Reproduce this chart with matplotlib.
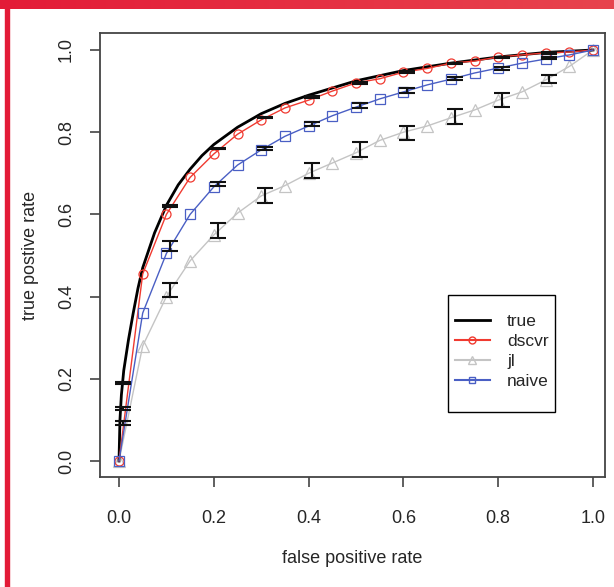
import numpy as np
import matplotlib
matplotlib.use("Agg")
import matplotlib.pyplot as plt
from matplotlib.lines import Line2D
from matplotlib.patches import Rectangle
from matplotlib.colors import LinearSegmentedColormap

plt.rcParams['font.family'] = ['Liberation Sans', 'DejaVu Sans']

# ---- data ----
true_x = [0.0, 0.002, 0.005, 0.01, 0.02, 0.03, 0.04, 0.05, 0.075, 0.1, 0.125, 0.15, 0.175,
          0.2, 0.25, 0.3, 0.35, 0.4, 0.5, 0.6, 0.7, 0.8, 0.9, 1.0]
true_y = [0.0, 0.10, 0.16, 0.22, 0.295, 0.36, 0.42, 0.47, 0.555, 0.622, 0.672, 0.71, 0.743,
          0.77, 0.812, 0.845, 0.87, 0.89, 0.925, 0.95, 0.968, 0.983, 0.994, 1.0]

grid_x = [0.0, 0.05, 0.1, 0.15, 0.2, 0.25, 0.3, 0.35, 0.4, 0.45, 0.5, 0.55, 0.6, 0.65,
          0.7, 0.75, 0.8, 0.85, 0.9, 0.95, 1.0]
dscvr_y = [0.0, 0.455, 0.60, 0.69, 0.747, 0.795, 0.83, 0.859, 0.878, 0.90, 0.92, 0.93,
           0.946, 0.955, 0.968, 0.973, 0.983, 0.988, 0.993, 0.995, 1.0]
naive_y = [0.0, 0.36, 0.505, 0.60, 0.667, 0.72, 0.757, 0.79, 0.815, 0.84, 0.861, 0.881,
           0.898, 0.915, 0.929, 0.944, 0.956, 0.968, 0.978, 0.988, 1.0]
jl_y = [0.0, 0.28, 0.40, 0.487, 0.55, 0.603, 0.645, 0.67, 0.70, 0.725, 0.75, 0.78,
        0.80, 0.815, 0.835, 0.854, 0.878, 0.898, 0.927, 0.96, 1.0]

# error bars (x positions, lower, upper)
err_x = [0.008, 0.108, 0.208, 0.308, 0.408, 0.508, 0.608, 0.708, 0.808, 0.908]
true_lo = [0.188, 0.618, 0.758, 0.834, 0.884, 0.918, 0.944, 0.965, 0.980, 0.991]
true_hi = [0.192, 0.622, 0.762, 0.838, 0.888, 0.922, 0.948, 0.969, 0.984, 0.995]
naive_lo = [0.124, 0.51, 0.670, 0.757, 0.815, 0.860, 0.895, 0.927, 0.951, 0.978]
naive_hi = [0.131, 0.535, 0.680, 0.764, 0.825, 0.871, 0.908, 0.934, 0.959, 0.983]
jl_lo = [0.088, 0.399, 0.543, 0.628, 0.689, 0.740, 0.780, 0.820, 0.861, 0.920]
jl_hi = [0.097, 0.433, 0.579, 0.664, 0.725, 0.776, 0.815, 0.856, 0.895, 0.940]

x_ticks = [0.0, 0.2, 0.4, 0.6, 0.8, 1.0]
y_ticks = [0.0, 0.2, 0.4, 0.6, 0.8, 1.0]
tick_labels = ["0.0", "0.2", "0.4", "0.6", "0.8", "1.0"]
legend_labels = ["true", "dscvr", "jl", "naive"]

RED = "#f03a30"
GRAY = "#c4c4c4"
BLUE = "#4a5fc4"
TXT = "#262626"

W, H = 614, 587
fig = plt.figure(figsize=(W / 100, H / 100), dpi=100)
fig.patch.set_facecolor("white")

# red frame: gradient band at top and thin line at left
band = fig.add_axes([0, 1 - 9 / H, 1, 9 / H])
grad = np.linspace(0, 1, 256)[None, :]
cmap = LinearSegmentedColormap.from_list("band", ["#e31b37", "#e8444e"])
band.imshow(grad, aspect="auto", cmap=cmap, extent=[0, 1, 0, 1])
band.set_axis_off()
fig.patches.append(plt.Rectangle((5 / W, 0), 3.5 / W, 1, transform=fig.transFigure,
                                 color="#e31b37", zorder=5))

L, R, T, B = 100, 605, 33, 477
ax = fig.add_axes([L / W, 1 - B / H, (R - L) / W, (B - T) / H])
ax.set_xlim(-19 / 474, 1 + 12 / 474)
ax.set_ylim(-16 / 411, 1 + 17 / 411)

ax.plot(true_x, true_y, color="black", lw=2.0, zorder=3)
ax.plot(grid_x, dscvr_y, color=RED, lw=1.0, marker="o", ms=6.5, mfc="none",
        mec=RED, mew=0.9, zorder=4)
ax.plot(grid_x, jl_y, color=GRAY, lw=1.0, marker="^", ms=8, mfc="none",
        mec=GRAY, mew=0.9, zorder=2)
ax.plot(grid_x, naive_y, color=BLUE, lw=1.0, marker="s", ms=7.5, mfc="none",
        mec=BLUE, mew=0.9, zorder=4)

for lo, hi in [(true_lo, true_hi), (naive_lo, naive_hi), (jl_lo, jl_hi)]:
    lo = np.array(lo); hi = np.array(hi)
    mid = (lo + hi) / 2
    ax.errorbar(err_x, mid, yerr=[mid - lo, hi - mid], fmt="none", ecolor="#111111",
                elinewidth=1.5, capsize=6, capthick=1.5, zorder=5)

for s in ax.spines.values():
    s.set_color("#444444")
    s.set_linewidth(1.3)
ax.set_xticks(x_ticks)
ax.set_xticklabels(tick_labels)
ax.set_yticks(y_ticks)
ax.set_yticklabels(tick_labels, rotation=90, va="center")
ax.tick_params(direction="out", length=7, width=1.2, color="#444444",
               labelsize=13, labelcolor=TXT)
ax.tick_params(axis="x", pad=17)
ax.tick_params(axis="y", pad=11)
ax.set_xlabel("false positive rate", fontsize=13, color=TXT, labelpad=16)
ax.set_ylabel("true postive rate", fontsize=13, color=TXT, labelpad=14)

handles = [
    Line2D([], [], color="black", lw=2),
    Line2D([], [], color=RED, lw=1.5, marker="o", ms=5, mfc="none", mec=RED),
    Line2D([], [], color=GRAY, lw=1.5, marker="^", ms=6, mfc="none", mec=GRAY),
    Line2D([], [], color=BLUE, lw=1.5, marker="s", ms=5, mfc="none", mec=BLUE),
]
ax_w, ax_h = R - L, B - T
leg = ax.legend(handles, legend_labels, loc="upper left",
                bbox_to_anchor=((455 - L) / ax_w, (B - 314) / ax_h),
                frameon=False, fontsize=12.5,
                handlelength=2.0, handletextpad=1.0, labelspacing=0.27,
                borderpad=0, borderaxespad=0)
for t in leg.get_texts():
    t.set_color(TXT)
ax.add_patch(Rectangle(((448 - L) / ax_w, (B - 412) / ax_h), 107 / ax_w, 117 / ax_h,
                       transform=ax.transAxes, fill=False, edgecolor="black",
                       lw=1.0, zorder=6))

fig.savefig("out.png", dpi=100)
